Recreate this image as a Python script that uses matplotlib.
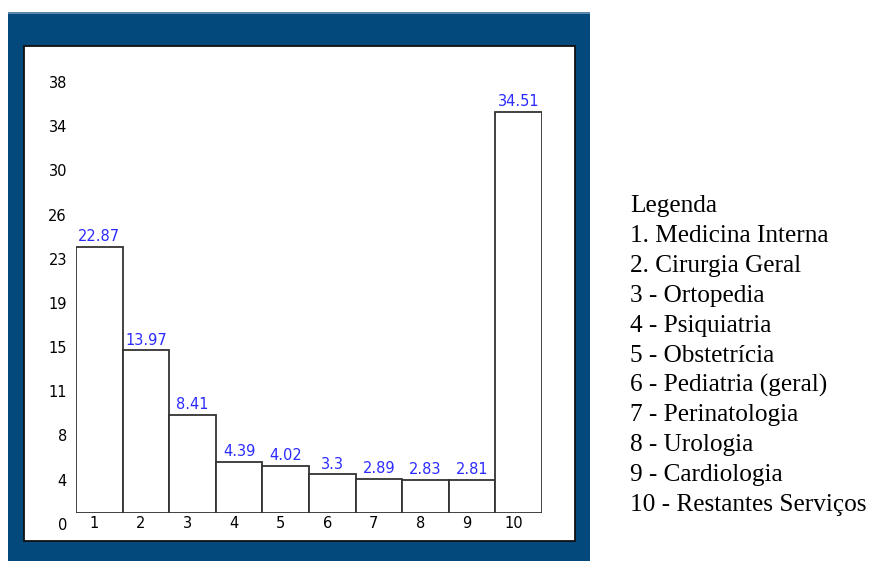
import matplotlib
matplotlib.use("Agg")
import matplotlib.pyplot as plt
from matplotlib.patches import Rectangle
from matplotlib.transforms import ScaledTranslation

# internamentos por servico (%)
categorias = ["1", "2", "3", "4", "5", "6", "7", "8", "9", "10"]
percentagens = [22.87, 13.97, 8.41, 4.39, 4.02, 3.3, 2.89, 2.83, 2.81, 34.51]
valor_labels = ["22.87", "13.97", "8.41", "4.39", "4.02", "3.3", "2.89", "2.83", "2.81", "34.51"]
ytick_pos = [0, 3.8, 7.6, 11.4, 15.2, 19.0, 22.8, 26.6, 30.4, 34.2, 38.0]
ytick_labels = ["0", "4", "8", "11", "15", "19", "23", "26", "30", "34", "38"]
legenda = ["Legenda",
           "1. Medicina Interna",
           "2. Cirurgia Geral",
           "3 - Ortopedia",
           "4 - Psiquiatria",
           "5 - Obstetrícia",
           "6 - Pediatria (geral)",
           "7 - Perinatologia",
           "8 - Urologia",
           "9 - Cardiologia",
           "10 - Restantes Serviços"]

W, H = 869, 561
fig = plt.figure(figsize=(W / 100, H / 100), dpi=100)
fig.patch.set_facecolor("white")


def px_rect(x0, y0, x1, y1, **kw):
    # rectangle given in pixels from the top-left corner
    r = Rectangle((x0 / W, 1 - y1 / H), (x1 - x0) / W, (y1 - y0) / H,
                  transform=fig.transFigure, zorder=-1, **kw)
    fig.patches.append(r)


# blue frame and white panel
px_rect(8, 12, 590, 561, facecolor="#03497c", edgecolor="none")
px_rect(8, 12, 590, 13.5, facecolor="#5b87ad", edgecolor="none")
px_rect(24, 46, 575, 541, facecolor="white", edgecolor="#111111", linewidth=1.3)

ax = fig.add_axes([76 / W, (H - 512.7) / H, 466 / W, 38 * 11.62 / H])
ax.set_zorder(2)
ax.set_facecolor("none")
x = list(range(1, len(categorias) + 1))
ax.bar(x, percentagens, width=1.0, color="white", edgecolor="#333333", linewidth=1.3)
for xi, v, lab in zip(x, percentagens, valor_labels):
    ax.annotate(lab, (xi, v), xytext=(0, 2), textcoords="offset points",
                ha="center", va="bottom", color="#2b2bff", fontsize=10.5)

ax.set_xlim(0.5, 10.5)
ax.set_ylim(0, 38)
for s in ax.spines.values():
    s.set_visible(False)
ax.set_xticks(x)
ax.set_xticklabels(categorias, fontsize=10.5)
ax.set_yticks(ytick_pos)
ax.set_yticklabels(ytick_labels, fontsize=10.5)
ax.tick_params(axis="both", length=0)
ax.tick_params(axis="x", pad=2.5)
ax.tick_params(axis="y", pad=6.5)

shift_y = ScaledTranslation(0, -11 / 100, fig.dpi_scale_trans)
for lab in ax.get_yticklabels():
    lab.set_transform(lab.get_transform() + shift_y)
shift_x = ScaledTranslation(-5 / 100, 0, fig.dpi_scale_trans)
for lab in ax.get_xticklabels():
    lab.set_transform(lab.get_transform() + shift_x)

# legend text on the right
for i, linha in enumerate(legenda):
    fig.text(630 / W, 1 - (212 + 29.9 * i) / H, linha, ha="left", va="baseline",
             fontsize=18.2, family="Liberation Serif", color="black")

fig.savefig("out.png", dpi=100)
